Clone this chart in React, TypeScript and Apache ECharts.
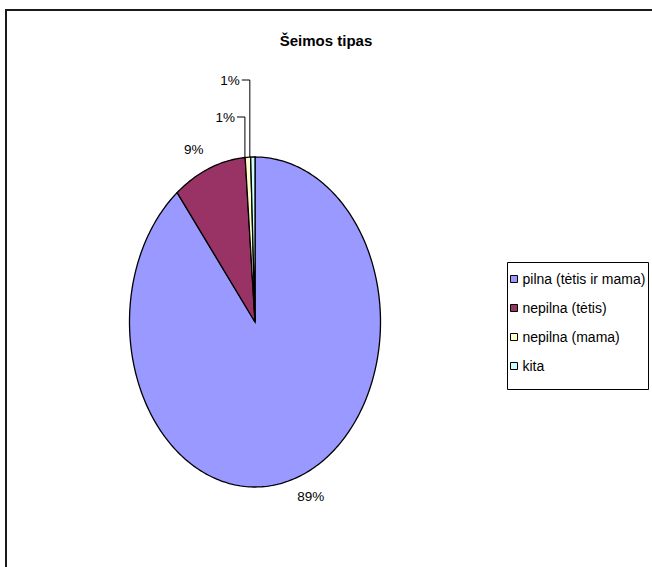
import React, { useEffect, useRef } from "react";
import * as echarts from "echarts";

const categories = ["pilna (tėtis ir mama)", "nepilna (tėtis)", "nepilna (mama)", "kita"];
const values = [89.35, 9.4, 0.7, 0.55];
const colors = ["#9999FF", "#993366", "#FFFFCC", "#CCFFFF"];
const chartTitle = "Šeimos tipas";

const FONT = "'Liberation Sans', Arial, sans-serif";

export default function App() {
  const ref = useRef<HTMLDivElement>(null);

  useEffect(() => {
    if (!ref.current) return;
    const chart = echarts.init(ref.current, null, { renderer: "svg" });

    const total = values.reduce((a, b) => a + b, 0);
    const starts: number[] = [];
    let acc = 0;
    values.forEach((v) => {
      starts.push(acc);
      acc += v;
    });
    const smallRank: number[] = [];
    let sr = 0;
    values.forEach((v) => {
      if (v / total < 0.02) smallRank.push(sr++);
      else smallRank.push(-1);
    });

    const cx = 255;
    const cy = 322;
    const rx = 125.5;
    const ry = 165;
    const toAng = (v: number) => (v / total) * Math.PI * 2;
    const pt = (a: number) => [cx + rx * Math.sin(a), cy - ry * Math.cos(a)];

    const series = categories.map((name, i) => ({
      type: "custom",
      name,
      coordinateSystem: "none",
      data: [[values[i]]],
      itemStyle: { color: colors[i] },
      renderItem: (_params: any, api: any) => {
        const v = api.value(0);
        const a0 = toAng(starts[i]);
        const a1 = toAng(starts[i] + v);
        const pts: number[][] = [[cx, cy]];
        const n = Math.max(2, Math.ceil((a1 - a0) / (Math.PI / 180)));
        for (let k = 0; k <= n; k++) pts.push(pt(a0 + ((a1 - a0) * k) / n));
        const children: any[] = [
          {
            type: "polygon",
            shape: { points: pts },
            style: { fill: colors[i], stroke: "#000", lineWidth: 1.3 },
          },
        ];
        const pct = Math.round((v / total) * 100) + "%";
        const mid = (a0 + a1) / 2;
        const [mx, my] = pt(mid);
        if (smallRank[i] < 0) {
          const s = Math.sin(mid);
          const c = -Math.cos(mid);
          children.push({
            type: "text",
            x: mx + 20 * s + Math.sign(s) * 8,
            y: my + 20 * c,
            style: {
              text: pct,
              align: "center",
              verticalAlign: "middle",
              fontSize: 13.5,
              fontFamily: FONT,
              fill: "#000",
            },
          });
        } else {
          const lx = mx - 3;
          const ly = cy - ry - 40 - 37 * smallRank[i];
          const ey = cy - ry * Math.sqrt(Math.max(0, 1 - ((lx - cx) / rx) ** 2));
          children.push({
            type: "polyline",
            shape: { points: [[lx, ey], [lx, ly], [lx - 8, ly]] },
            style: { stroke: "#000", lineWidth: 1, fill: null },
          });
          children.push({
            type: "text",
            x: lx - 10,
            y: ly,
            style: {
              text: pct,
              align: "right",
              verticalAlign: "middle",
              fontSize: 13.5,
              fontFamily: FONT,
              fill: "#000",
            },
          });
        }
        return { type: "group", children };
      },
    }));

    chart.setOption({
      animation: false,
      backgroundColor: "#fff",
      title: {
        text: chartTitle,
        left: "center",
        top: 33,
        padding: 0,
        textStyle: { fontSize: 15, fontWeight: "bold", fontFamily: FONT, color: "#000" },
      },
      legend: {
        orient: "vertical",
        left: 510,
        top: 271.5,
        padding: 0,
        icon: "rect",
        itemWidth: 7,
        itemHeight: 7,
        itemGap: 14,
        itemStyle: { borderColor: "#000", borderWidth: 1 },
        textStyle: { fontSize: 14, lineHeight: 15, fontFamily: FONT, color: "#000" },
        data: categories,
        selectedMode: false,
      },
      graphic: [
        {
          type: "rect",
          shape: { x: 6, y: 10, width: 700, height: 620 },
          style: { fill: "none", stroke: "#1a1a1a", lineWidth: 2 },
          silent: true,
        },
        {
          type: "rect",
          shape: { x: 507.5, y: 262.5, width: 141, height: 127 },
          style: { fill: "none", stroke: "#000", lineWidth: 1 },
          silent: true,
        },
      ],
      series,
    });

    return () => chart.dispose();
  }, []);

  return (
    <div
      ref={ref}
      style={{ position: "absolute", left: 0, top: 0, width: 652, height: 567, background: "#fff" }}
    />
  );
}
